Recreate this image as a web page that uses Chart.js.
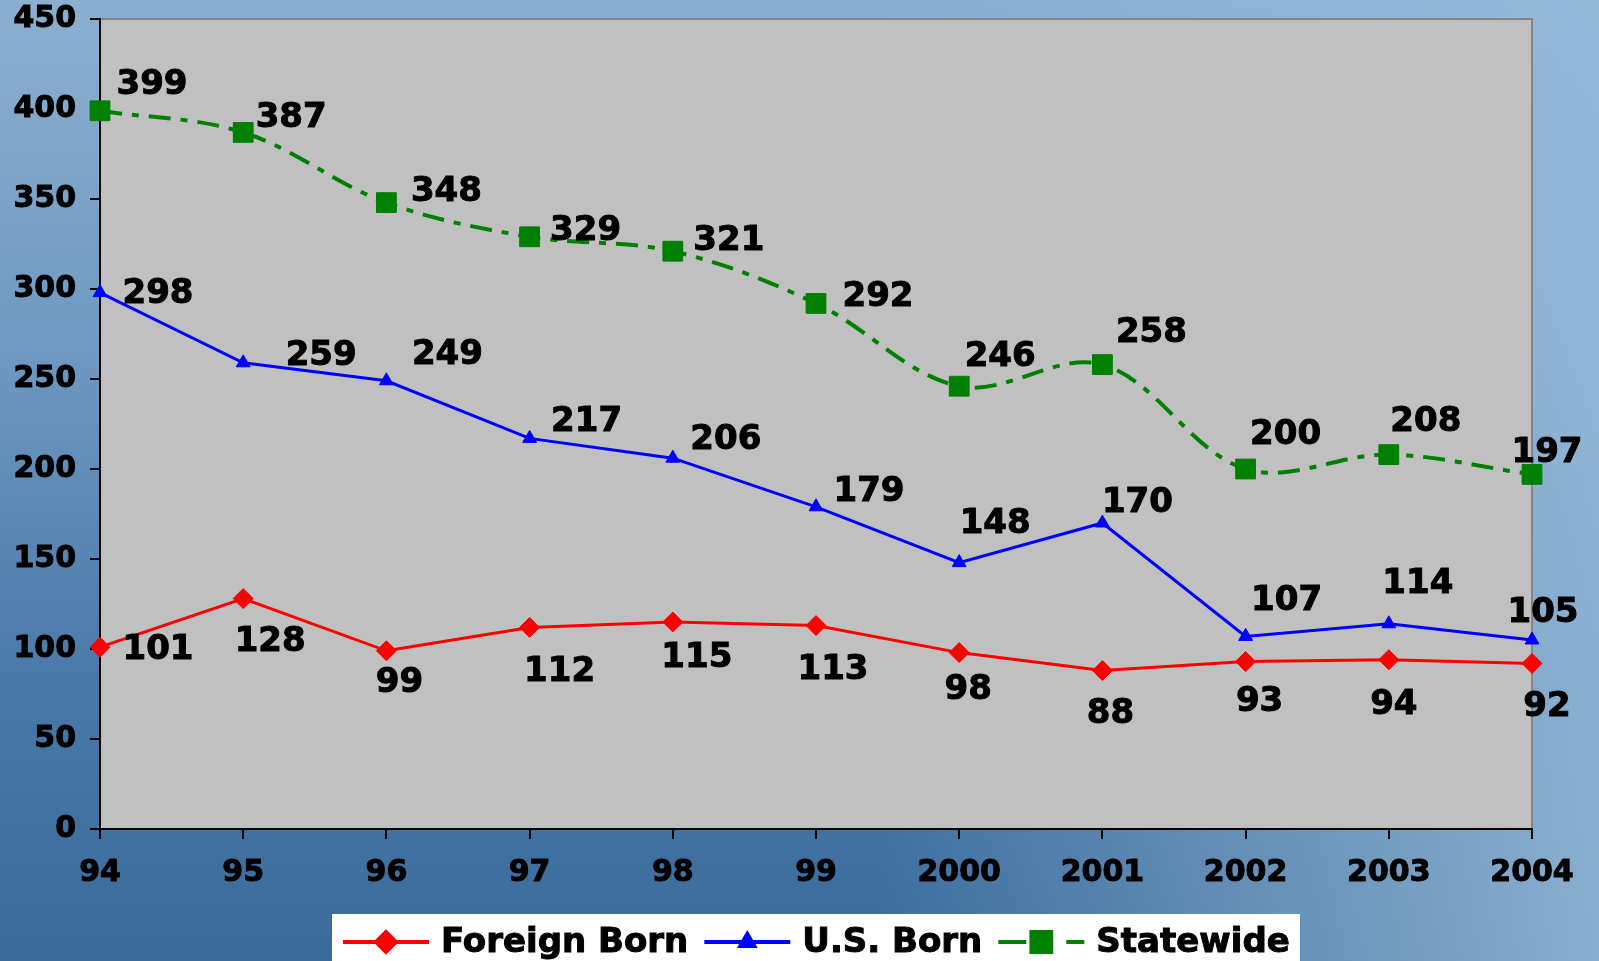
<!DOCTYPE html>
<html>
<head>
<meta charset="utf-8">
<script src="https://cdn.jsdelivr.net/npm/chart.js@4.4.0/dist/chart.umd.min.js"></script>
<style>
  html, body { margin: 0; padding: 0; }
  body {
    width: 1599px; height: 961px; overflow: hidden;
    background:
      linear-gradient(to right, rgba(155,190,220,0) 55%, rgba(150,186,216,0.85) 100%),
      linear-gradient(to bottom, #8cafd0 0%, #709ac3 35%, #4878a8 72%, #3a6b9a 100%);
  }
  #wrap { position: relative; width: 1599px; height: 961px; }
  canvas { display: block; }
</style>
</head>
<body>
<div id="wrap"><canvas id="chart" width="1599" height="961"></canvas></div>
<script>
// data
const years = ['94', '95', '96', '97', '98', '99', '2000', '2001', '2002', '2003', '2004'];
const foreignBorn = [101, 128, 99, 112, 115, 113, 98, 88, 93, 94, 92];
const usBorn = [298, 259, 249, 217, 206, 179, 148, 170, 107, 114, 105];
const statewide = [399, 387, 348, 329, 321, 292, 246, 258, 200, 208, 197];
const yTicks = [0, 50, 100, 150, 200, 250, 300, 350, 400, 450];

// where each value label sits relative to its point (px)
const foreignLabelPos = [[58,3],[27,44],[13,32],[30,45],[24,36],[17,45],[9,38],[8,44],[14,41],[5,45],[15,44]];
const usLabelPos = [[58,2],[78,-7],[61,-26],[57,-16],[53,-18],[53,-15],[36,-38],[35,-20],[41,-35],[29,-40],[11,-27]];
const stateLabelPos = [[52,-26],[48,-14],[60,-10],[56,-6],[56,-10],[62,-6],[41,-29],[49,-31],[40,-34],[37,-32],[15,-21]];

const FONT = '"DejaVu Sans", Verdana, sans-serif';

const plotBg = {
  id: 'plotBg',
  beforeDraw(chart) {
    const { ctx, chartArea: a } = chart;
    ctx.save();
    ctx.fillStyle = '#c0c0c0';
    ctx.fillRect(a.left, a.top, a.right - a.left, a.bottom - a.top);
    ctx.strokeStyle = '#858585';
    ctx.lineWidth = 2;
    ctx.beginPath();
    ctx.moveTo(a.left, a.top);
    ctx.lineTo(a.right, a.top);
    ctx.lineTo(a.right, a.bottom);
    ctx.stroke();
    ctx.restore();
  }
};

const valueLabels = {
  id: 'valueLabels',
  afterDatasetsDraw(chart) {
    const ctx = chart.ctx;
    ctx.save();
    ctx.font = 'bold 34px ' + FONT;
    ctx.fillStyle = '#000';
    ctx.strokeStyle = '#000';
    ctx.lineWidth = 1;
    ctx.textAlign = 'center';
    ctx.textBaseline = 'middle';
    chart.data.datasets.forEach((ds, i) => {
      const meta = chart.getDatasetMeta(i);
      meta.data.forEach((pt, j) => {
        const off = ds.labelPos[j];
        const t = String(ds.data[j]);
        ctx.fillText(t, pt.x + off[0], pt.y + off[1]);
        ctx.strokeText(t, pt.x + off[0], pt.y + off[1]);
      });
    });
    ctx.restore();
  }
};

const boxLegend = {
  id: 'boxLegend',
  afterDraw(chart) {
    const ctx = chart.ctx;
    ctx.save();
    ctx.fillStyle = '#fff';
    ctx.fillRect(332, 914, 968, 47);
    ctx.font = 'bold 34px ' + FONT;
    ctx.textBaseline = 'middle';
    ctx.textAlign = 'left';
    let x = 343;
    const y = 942;
    chart.data.datasets.forEach(ds => {
      const len = 86;
      ctx.strokeStyle = ds.borderColor;
      ctx.lineWidth = 4;
      let mx = x + len / 2;
      ctx.beginPath();
      if (ds.borderDash) {
        ctx.moveTo(x, y); ctx.lineTo(x + 28, y);
        ctx.moveTo(x + 68, y); ctx.lineTo(x + len, y);
        mx = x + 43;
      } else {
        ctx.moveTo(x, y); ctx.lineTo(x + len, y);
      }
      ctx.stroke();
      Chart.helpers.drawPoint(ctx, {
        pointStyle: ds.pointStyle, radius: ds.pointRadius, rotation: 0, borderWidth: 1
      }, mx, y);
      ctx.fillStyle = ds.borderColor;
      ctx.fill();
      ctx.fillStyle = '#000';
      ctx.strokeStyle = '#000';
      ctx.lineWidth = 1;
      const tx = x + len + 12;
      ctx.fillText(ds.label, tx, y + 1);
      ctx.strokeText(ds.label, tx, y + 1);
      x = tx + ctx.measureText(ds.label).width + 16;
    });
    ctx.restore();
  }
};

new Chart(document.getElementById('chart'), {
  type: 'line',
  data: {
    labels: years,
    datasets: [
      {
        label: 'Foreign Born', data: foreignBorn, labelPos: foreignLabelPos,
        borderColor: '#ff0000', backgroundColor: '#ff0000', borderWidth: 3,
        pointStyle: 'rectRot', pointRadius: 10, pointBorderWidth: 1, tension: 0
      },
      {
        label: 'U.S. Born', data: usBorn, labelPos: usLabelPos,
        borderColor: '#0000ff', backgroundColor: '#0000ff', borderWidth: 3,
        pointStyle: 'triangle', pointRadius: 8, pointBorderWidth: 1, tension: 0
      },
      {
        label: 'Statewide', data: statewide, labelPos: stateLabelPos,
        borderColor: '#008000', backgroundColor: '#008000', borderWidth: 4,
        borderDash: [22, 10, 7, 10],
        pointStyle: 'rect', pointRadius: 14, pointBorderWidth: 1, tension: 0.35
      }
    ]
  },
  options: {
    responsive: false,
    animation: false,
    devicePixelRatio: 1,
    layout: { padding: { top: 19, right: 67, left: 0, bottom: 0 } },
    plugins: { legend: { display: false }, tooltip: { enabled: false } },
    scales: {
      x: {
        offset: false,
        grid: { drawOnChartArea: false, drawTicks: true, tickLength: 10, color: '#000', lineWidth: 2 },
        border: { color: '#000', width: 2 },
        ticks: {
          color: '#000', font: { family: FONT, size: 30, weight: 'bold' }, padding: 16, maxRotation: 0,
          textStrokeColor: '#000', textStrokeWidth: 1
        },
        afterFit(scale) { scale.height = 132; scale.paddingLeft = 0; scale.paddingRight = 0; }
      },
      y: {
        min: 0, max: 450,
        afterBuildTicks(scale) { scale.ticks = yTicks.map(v => ({ value: v })); },
        grid: { drawOnChartArea: false, drawTicks: true, tickLength: 10, color: '#000', lineWidth: 2 },
        border: { color: '#000', width: 2 },
        ticks: {
          color: '#000', font: { family: FONT, size: 30, weight: 'bold' }, padding: 14,
          textStrokeColor: '#000', textStrokeWidth: 1
        },
        afterFit(scale) { scale.width = 100; scale.paddingTop = 0; scale.paddingBottom = 0; }
      }
    }
  },
  plugins: [plotBg, valueLabels, boxLegend]
});
</script>
</body>
</html>
